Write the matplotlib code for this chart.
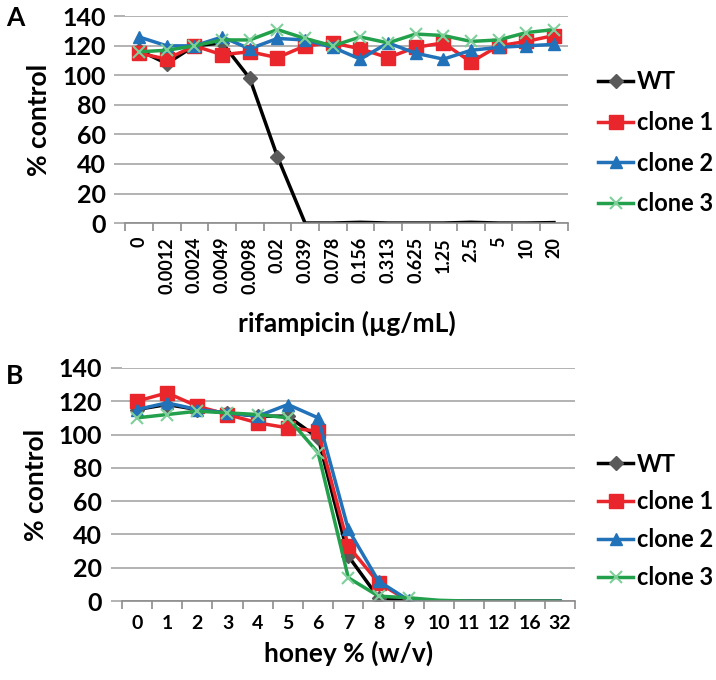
import matplotlib
matplotlib.use("Agg")
import matplotlib.pyplot as plt
import numpy as np

plt.rcParams['font.family'] = ['Lato', 'DejaVu Sans']
plt.rcParams['font.weight'] = 'bold'
plt.rcParams['axes.labelweight'] = 'bold'

# panel A: rifampicin
rif_labels = ['0', '0.0012', '0.0024', '0.0049', '0.0098', '0.02', '0.039', '0.078',
              '0.156', '0.313', '0.625', '1.25', '2.5', '5', '10', '20']
rif_wt = [117, 108, 120, 122, 98, 45, 0, 0, 0.5, 0, 0, 0, 0.5, 0, 0, 0.3]
rif_c1 = [115, 111, 120, 114, 116, 112, 120, 122, 118, 112, 119, 122, 109, 120, 123, 127]
rif_c2 = [126, 120, 120, 126, 118, 125, 124, 119, 111, 122, 115, 111, 117, 119, 120, 121]
rif_c3 = [116, 117, 120, 124, 124, 131, 125, 120, 126, 122, 128, 127, 123, 124, 129, 131]

# panel B: honey
honey_labels = ['0', '1', '2', '3', '4', '5', '6', '7', '8', '9', '10', '11', '12', '16', '32']
honey_wt = [115, 118, 115, 113, 111, 111, 98, 27, 2, 0, 0, 0, 0, 0, 0]
honey_c1 = [120, 125, 117, 112, 107, 104, 102, 33, 11, 0, 0, 0, 0, 0, 0]
honey_c2 = [115, 119, 115, 113, 111, 118, 110, 43, 12, 0.5, 0, 0, 0, 0, 0]
honey_c3 = [110, 112, 114, 113, 112, 110, 89, 14, 3, 2, 0.5, 0, 0, 0, 0]

names = ['WT', 'clone 1', 'clone 2', 'clone 3']
styles = [
    dict(color='black', marker='D', mfc='#5a5a5a', mec='#5a5a5a', ms=7),
    dict(color='#e8262b', marker='s', mfc='#e8262b', mec='#e8262b', ms=10),
    dict(color='#2172b8', marker='^', mfc='#2172b8', mec='#2172b8', ms=9),
    dict(color='#22a04b', marker='x', mfc='#7fcf9a', mec='#7fcf9a', ms=9, mew=1.5),
]

fig = plt.figure(figsize=(7.16, 6.8), dpi=100)
ax1 = fig.add_axes([0.175, 0.672, 0.618, 0.304])
ax2 = fig.add_axes([0.170, 0.116, 0.633, 0.343])


def draw(ax, labels, series, last_marker, rot, tsize, spacing, leg_y):
    x = np.arange(len(labels))
    for name, ys, st, lm in zip(names, series, styles, last_marker):
        ax.plot(x, ys, lw=2.5, label=name, markevery=list(range(lm)), **st)
    ax.set_xlim(-0.5, len(labels) - 0.5)
    ax.set_ylim(0, 140)
    ax.set_yticks(np.arange(0, 141, 20))
    ax.yaxis.grid(True, color='#a6a6a6', lw=1.2)
    ax.set_axisbelow(True)
    for s in ['top', 'right', 'left']:
        ax.spines[s].set_visible(False)
    ax.spines['bottom'].set_color('#8c8c8c')
    ax.spines['bottom'].set_linewidth(1.2)
    ax.set_xticks(x)
    ax.set_xticklabels(labels, rotation=rot, fontsize=tsize)
    ax.set_xticks(np.arange(len(labels) + 1) - 0.5, minor=True)
    ax.tick_params(axis='x', which='major', length=0, pad=10)
    ax.tick_params(axis='x', which='minor', length=6, color='#8c8c8c', width=1.2)
    ax.tick_params(axis='y', length=8, color='#a6a6a6', width=1.2, labelsize=18, pad=6)
    ax.set_ylabel('% control', fontsize=19, labelpad=8)
    ax.legend(loc='center left', bbox_to_anchor=(0.835, leg_y), bbox_transform=fig.transFigure,
              frameon=False, fontsize=17, handlelength=1.5, handletextpad=0.15,
              labelspacing=spacing, borderaxespad=0, borderpad=0)


draw(ax1, rif_labels, [rif_wt, rif_c1, rif_c2, rif_c3], [6, 16, 16, 16], 90, 13, 0.75, 0.790)
ax1.set_xlabel('rifampicin (\u00b5g/mL)', fontsize=19, labelpad=12)

draw(ax2, honey_labels, [honey_wt, honey_c1, honey_c2, honey_c3], [9, 9, 10, 10], 0, 14, 0.63, 0.234)
ax2.set_xlabel('honey % (w/v)', fontsize=19, labelpad=6)

fig.text(0.008, 0.962, 'A', fontsize=19, fontweight='bold')
fig.text(0.008, 0.435, 'B', fontsize=19, fontweight='bold')

fig.savefig('out.png', dpi=100)
